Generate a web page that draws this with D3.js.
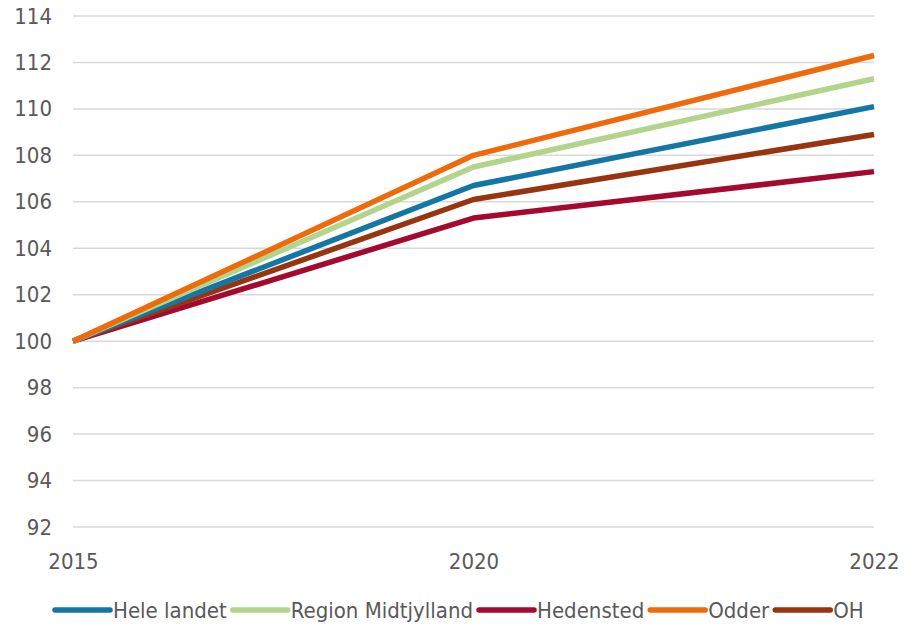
<!DOCTYPE html>
<html>
<head>
<meta charset="utf-8">
<script src="https://cdn.jsdelivr.net/npm/d3@7"></script>
<style>
  body { margin: 0; background: #fff; }
  svg text { font-family: "Liberation Sans Narrow", "DejaVu Sans Condensed", "Open Sans", sans-serif; fill: #595959; }
</style>
</head>
<body>
<svg id="chart" width="914" height="626"></svg>
<script>
// data
var years = ["2015", "2020", "2022"];
var seriesNames = ["Hele landet", "Region Midtjylland", "Hedensted", "Odder", "OH"];
var heleLandet = [100, 106.7, 110.1];
var regionMidt = [100, 107.5, 111.3];
var hedensted = [100, 105.3, 107.3];
var odder = [100, 108.0, 112.3];
var oh = [100, 106.1, 108.9];
var yTicks = [92, 94, 96, 98, 100, 102, 104, 106, 108, 110, 112, 114];

var colors = ["#1476a4", "#b2d58b", "#a50a2e", "#ee6a0b", "#983510"];
var allValues = [heleLandet, regionMidt, hedensted, odder, oh];

var svg = d3.select("#chart"),
    margin = {top: 16, right: 40, bottom: 99, left: 73},
    width = +svg.attr("width") - margin.left - margin.right,
    height = +svg.attr("height") - margin.top - margin.bottom,
    g = svg.append("g").attr("transform", "translate(" + margin.left + "," + margin.top + ")");

var x = d3.scalePoint().domain(years).range([0, width]);
var y = d3.scaleLinear().domain([92, 114]).range([height, 0]);

// gridlines
g.append("g")
    .selectAll("line")
    .data(yTicks)
    .enter().append("line")
    .attr("x1", 0)
    .attr("x2", width)
    .attr("y1", function (d) { return y(d); })
    .attr("y2", function (d) { return y(d); })
    .attr("stroke", "#d9d9d9")
    .attr("stroke-width", 1.5);

// y axis labels
var yAxis = g.append("g")
    .call(d3.axisLeft(y).tickValues(yTicks).tickSize(0).tickPadding(21));
yAxis.select(".domain").remove();
yAxis.selectAll("text").attr("font-size", "22px").style("fill", "#595959")
    .attr("font-family", null);

// x axis labels
var xAxis = g.append("g")
    .attr("transform", "translate(0," + height + ")")
    .call(d3.axisBottom(x).tickSize(0).tickPadding(26));
xAxis.select(".domain").remove();
xAxis.selectAll("text").attr("font-size", "22px").style("fill", "#595959")
    .attr("font-family", null);

// lines
var line = d3.line()
    .x(function (d, i) { return x(years[i]); })
    .y(function (d) { return y(d); });

[2, 4, 0, 1, 3].forEach(function (k) {
    g.append("path")
        .datum(allValues[k])
        .attr("fill", "none")
        .attr("stroke", colors[k])
        .attr("stroke-width", 5.5)
        .attr("stroke-linejoin", "round")
        .attr("d", line);
});

// legend
var legend = svg.append("g")
    .attr("transform", "translate(0,610)");
var lx = 55;
seriesNames.forEach(function (name, i) {
    var item = legend.append("g");
    item.append("line")
        .attr("x1", lx).attr("x2", lx + 55)
        .attr("y1", 0).attr("y2", 0)
        .attr("stroke", colors[i])
        .attr("stroke-width", 5.5)
        .attr("stroke-linecap", "round");
    var t = item.append("text")
        .attr("x", lx + 58)
        .attr("y", 0)
        .attr("dy", "0.35em")
        .attr("font-size", "22px")
        .text(name);
    lx += 58 + t.node().getComputedTextLength() + 6;
});
</script>
</body>
</html>
